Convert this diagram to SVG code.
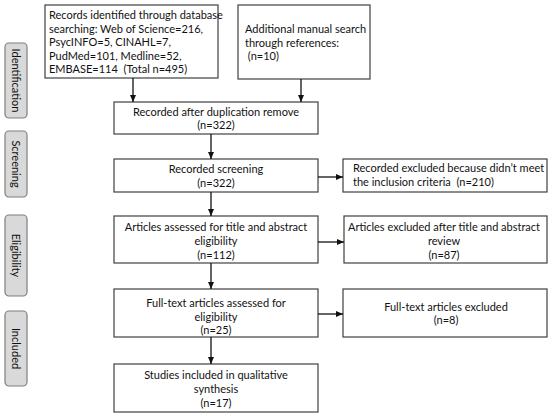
<svg xmlns="http://www.w3.org/2000/svg" width="550" height="416" viewBox="0 0 550 416">
<style>
.box{fill:#fff;stroke:#404040;stroke-width:1.2}
.side{fill:#d9d9d9;stroke:#7f7f7f;stroke-width:1.2}
text{font-family:Lato,"Liberation Sans",sans-serif;font-size:11px;fill:#111;white-space:pre}
.c{text-anchor:middle}
.ln{stroke:#111;stroke-width:1.3;fill:none;marker-end:url(#ah)}
</style>
<defs>
<marker id="ah" markerWidth="8" markerHeight="8" refX="7" refY="4" orient="auto" markerUnits="userSpaceOnUse">
<path d="M0,1 L7,4 L0,7 Z" fill="#111"/>
</marker>
</defs>
<rect width="550" height="416" fill="#fff"/>
<g id="side-identification"><rect class="side" x="5" y="43" width="22" height="75" rx="4"/><text class="c" transform="translate(16,80.5) rotate(90)" dy="4">Identification</text></g>
<g id="side-screening"><rect class="side" x="5" y="131" width="22" height="66" rx="4"/><text class="c" transform="translate(16,164) rotate(90)" dy="4">Screening</text></g>
<g id="side-eligibility"><rect class="side" x="5" y="215" width="22" height="81" rx="4"/><text class="c" transform="translate(16,255.5) rotate(90)" dy="4">Eligibility</text></g>
<g id="side-included"><rect class="side" x="5" y="311" width="22" height="75" rx="4"/><text class="c" transform="translate(16,348.5) rotate(90)" dy="4">Included</text></g>

<g id="n-records"><rect class="box" x="45" y="5" width="173" height="73"/>
<text x="49" y="19">Records identified through database</text>
<text x="49" y="32.5">searching: Web of Science=216,</text>
<text x="49" y="46">PsycINFO=5, CINAHL=7,</text>
<text x="49" y="59.5">PudMed=101, Medline=52,</text>
<text x="49" y="73">EMBASE=114  (Total n=495)</text></g>

<g id="n-manual"><rect class="box" x="238" y="5" width="132" height="74"/>
<text x="245" y="33">Additional manual search</text>
<text x="245" y="46.5">through references:</text>
<text x="245" y="60"> (n=10)</text></g>

<g id="n-dup"><rect class="box" x="114" y="102" width="204" height="32"/>
<text class="c" x="216" y="115.5">Recorded after duplication remove</text>
<text class="c" x="216" y="129">(n=322)</text></g>

<g id="n-screen"><rect class="box" x="114" y="159" width="204" height="33"/>
<text class="c" x="216" y="173">Recorded screening</text>
<text class="c" x="216" y="186.5">(n=322)</text></g>

<g id="n-excl1"><rect class="box" x="343" y="159" width="204" height="33"/>
<text x="353" y="172">Recorded excluded because didn’t meet</text>
<text x="353" y="185.5">the inclusion criteria  (n=210)</text></g>

<g id="n-assess"><rect class="box" x="114" y="216" width="204" height="47"/>
<text class="c" x="216" y="231">Articles assessed for title and abstract</text>
<text class="c" x="216" y="245">eligibility</text>
<text class="c" x="216" y="258.5">(n=112)</text></g>

<g id="n-excl2"><rect class="box" x="344" y="216" width="203" height="47"/>
<text class="c" x="444" y="231">Articles excluded after title and abstract</text>
<text class="c" x="444" y="245">review</text>
<text class="c" x="444" y="258.5">(n=87)</text></g>

<g id="n-fulltext"><rect class="box" x="114" y="289" width="204" height="48"/>
<text class="c" x="216" y="306.5">Full-text articles assessed for</text>
<text class="c" x="216" y="320.5">eligibility</text>
<text class="c" x="216" y="333.5">(n=25)</text></g>

<g id="n-excl3"><rect class="box" x="343" y="289" width="204" height="48"/>
<text class="c" x="446" y="310.5">Full-text articles excluded</text>
<text class="c" x="446" y="324">(n=8)</text></g>

<g id="n-included"><rect class="box" x="114" y="364" width="204" height="48"/>
<text class="c" x="216" y="379">Studies included in qualitative</text>
<text class="c" x="216" y="393">synthesis</text>
<text class="c" x="216" y="406.5">(n=17)</text></g>

<g id="connectors">
<line class="ln" x1="133" y1="78" x2="133" y2="102"/>
<line class="ln" x1="301" y1="79" x2="301" y2="102"/>
<line class="ln" x1="211" y1="134" x2="211" y2="159"/>
<line class="ln" x1="211" y1="192" x2="211" y2="216"/>
<line class="ln" x1="211" y1="263" x2="211" y2="289"/>
<line class="ln" x1="211" y1="337" x2="211" y2="364"/>
<line class="ln" x1="318" y1="177" x2="343" y2="177"/>
<line class="ln" x1="318" y1="242" x2="344" y2="242"/>
<line class="ln" x1="318" y1="314" x2="343" y2="314"/>
</g>
</svg>
